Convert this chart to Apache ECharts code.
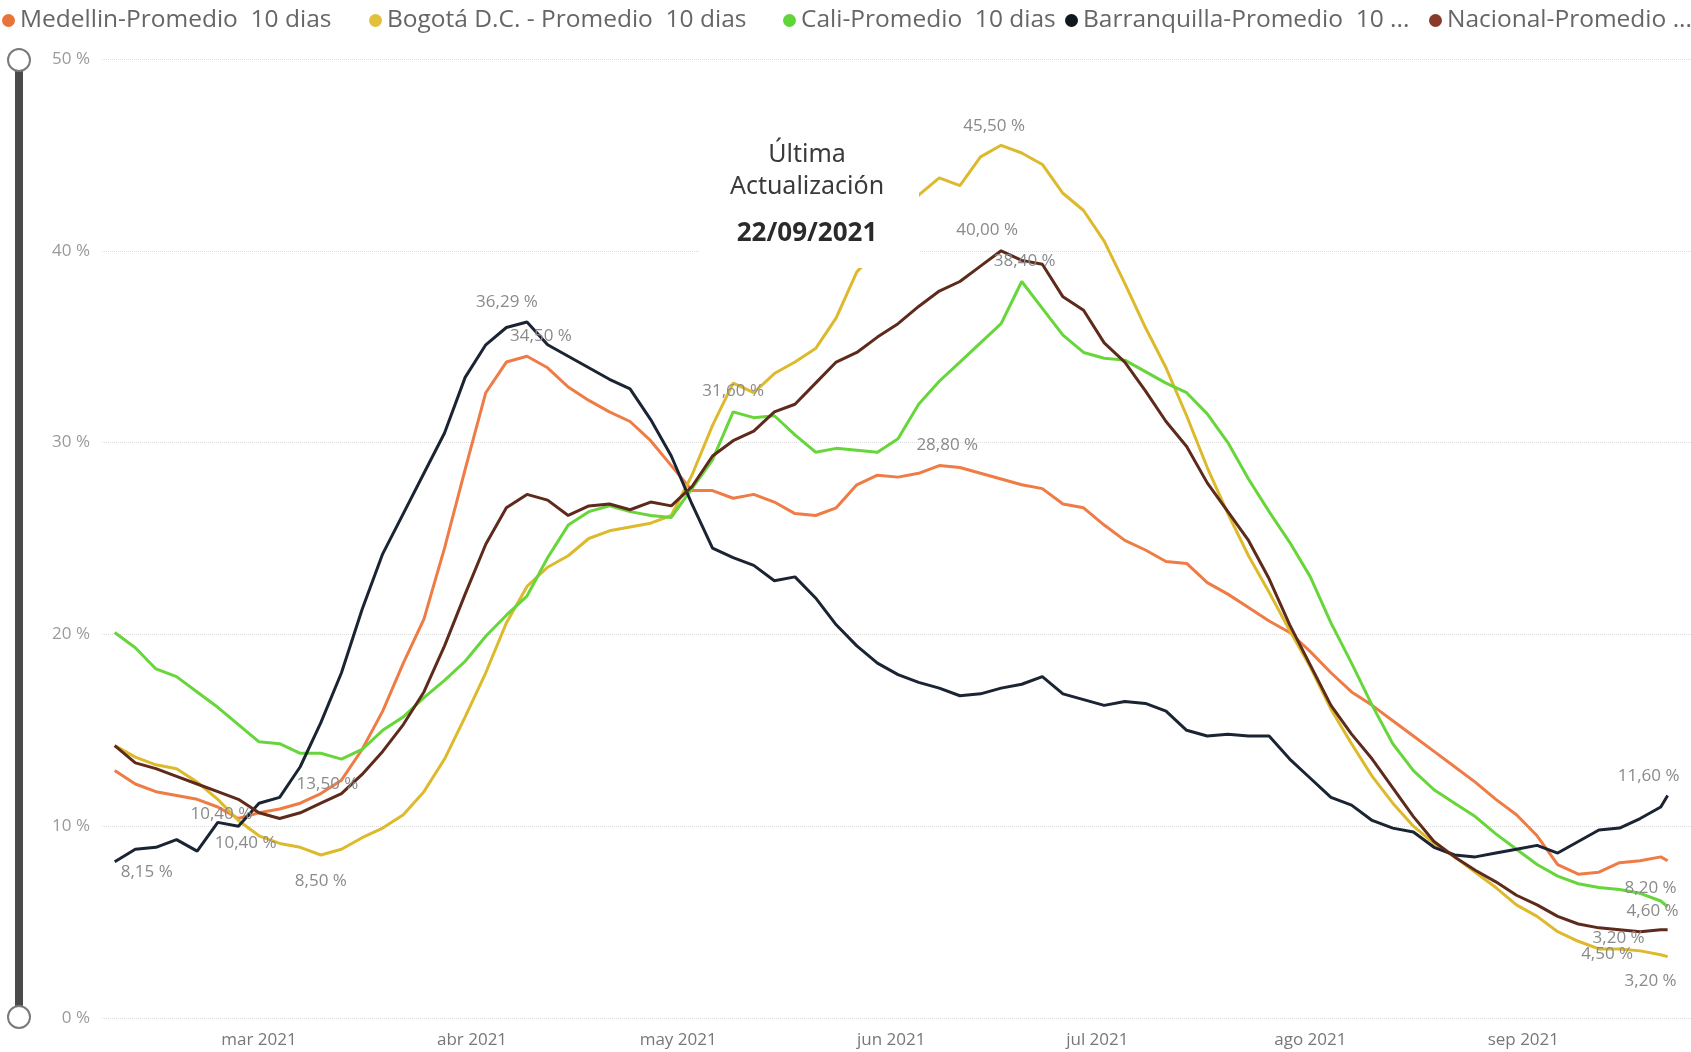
<!DOCTYPE html>
<html>
<head>
<meta charset="utf-8">
<script src="https://cdn.jsdelivr.net/npm/echarts@6/dist/echarts.min.js"></script>
<style>
html,body{margin:0;padding:0;background:#fff;}
#chart{width:1691px;height:1052px;}
</style>
</head>
<body>
<div id="chart"></div>
<script>
// ---------- DATA ----------
const dates = [
 '2021-02-08','2021-02-11','2021-02-14','2021-02-17','2021-02-20','2021-02-23','2021-02-26',
 '2021-03-01','2021-03-04','2021-03-07','2021-03-10','2021-03-13','2021-03-16','2021-03-19','2021-03-22','2021-03-25','2021-03-28','2021-03-31',
 '2021-04-03','2021-04-06','2021-04-09','2021-04-12','2021-04-15','2021-04-18','2021-04-21','2021-04-24','2021-04-27','2021-04-30',
 '2021-05-03','2021-05-06','2021-05-09','2021-05-12','2021-05-15','2021-05-18','2021-05-21','2021-05-24','2021-05-27','2021-05-30',
 '2021-06-02','2021-06-05','2021-06-08','2021-06-11','2021-06-14','2021-06-17','2021-06-20','2021-06-23','2021-06-26','2021-06-29',
 '2021-07-02','2021-07-05','2021-07-08','2021-07-11','2021-07-14','2021-07-17','2021-07-20','2021-07-23','2021-07-26','2021-07-29',
 '2021-08-01','2021-08-04','2021-08-07','2021-08-10','2021-08-13','2021-08-16','2021-08-19','2021-08-22','2021-08-25','2021-08-28','2021-08-31',
 '2021-09-03','2021-09-06','2021-09-09','2021-09-12','2021-09-15','2021-09-18','2021-09-21','2021-09-22'
];

const seriesNames = [
 'Medellin-Promedio  10 dias',
 'Bogotá D.C. - Promedio  10 dias',
 'Cali-Promedio  10 dias',
 'Barranquilla-Promedio  10 ...',
 'Nacional-Promedio ...'
];

const medellin = [
 12.9,12.2,11.8,11.6,11.4,11.0,10.4,
 10.7,10.9,11.2,11.7,12.4,14.0,16.0,18.5,20.8,24.5,28.6,
 32.6,34.2,34.5,33.9,32.9,32.2,31.6,31.1,30.1,28.8,
 27.5,27.5,27.1,27.3,26.9,26.3,26.2,26.6,27.8,28.3,
 28.2,28.4,28.8,28.7,28.4,28.1,27.8,27.6,26.8,26.6,
 25.7,24.9,24.4,23.8,23.7,22.7,22.1,21.4,20.7,20.1,
 19.1,18.0,17.0,16.3,15.5,14.7,13.9,13.1,12.3,11.4,10.6,
 9.5,8.0,7.5,7.6,8.1,8.2,8.4,8.2
];

const bogota = [
 14.2,13.6,13.2,13.0,12.3,11.4,10.3,
 9.5,9.1,8.9,8.5,8.8,9.4,9.9,10.6,11.8,13.5,15.7,
 18.0,20.6,22.5,23.5,24.1,25.0,25.4,25.6,25.8,26.2,
 28.3,30.9,33.1,32.6,33.6,34.2,34.9,36.5,38.9,40.0,
 41.2,42.9,43.8,43.4,44.9,45.5,45.1,44.5,43.0,42.1,
 40.5,38.3,36.0,33.9,31.4,28.7,26.3,24.1,22.2,20.2,
 18.3,16.1,14.3,12.6,11.2,10.0,9.1,8.4,7.6,6.8,5.9,
 5.3,4.5,4.0,3.6,3.6,3.5,3.3,3.2
];

const cali = [
 20.1,19.3,18.2,17.8,17.0,16.2,15.3,
 14.4,14.3,13.8,13.8,13.5,14.0,15.0,15.7,16.7,17.6,18.6,
 19.9,21.0,22.0,24.0,25.7,26.4,26.7,26.4,26.2,26.1,
 27.6,29.1,31.6,31.3,31.4,30.4,29.5,29.7,29.6,29.5,
 30.2,32.0,33.2,34.2,35.2,36.2,38.4,37.0,35.6,34.7,
 34.4,34.3,33.7,33.1,32.6,31.5,30.0,28.1,26.4,24.8,
 23.0,20.6,18.5,16.3,14.3,12.9,11.9,11.2,10.5,9.6,8.8,
 8.0,7.4,7.0,6.8,6.7,6.5,6.1,5.8
];

const barranquilla = [
 8.15,8.8,8.9,9.3,8.7,10.2,10.0,
 11.2,11.5,13.1,15.4,18.0,21.3,24.2,26.3,28.4,30.5,33.4,
 35.1,36.0,36.29,35.1,34.5,33.9,33.3,32.8,31.2,29.3,
 26.8,24.5,24.0,23.6,22.8,23.0,21.9,20.5,19.4,18.5,
 17.9,17.5,17.2,16.8,16.9,17.2,17.4,17.8,16.9,16.6,
 16.3,16.5,16.4,16.0,15.0,14.7,14.8,14.7,14.7,13.5,
 12.5,11.5,11.1,10.3,9.9,9.7,8.9,8.5,8.4,8.6,8.8,
 9.0,8.6,9.2,9.8,9.9,10.4,11.0,11.6
];

const nacional = [
 14.2,13.3,13.0,12.6,12.2,11.8,11.4,
 10.7,10.4,10.7,11.2,11.7,12.7,13.9,15.3,17.0,19.4,22.1,
 24.7,26.6,27.3,27.0,26.2,26.7,26.8,26.5,26.9,26.7,
 27.7,29.3,30.1,30.6,31.6,32.0,33.1,34.2,34.7,35.5,
 36.2,37.1,37.9,38.4,39.2,40.0,39.5,39.3,37.6,36.9,
 35.2,34.2,32.7,31.1,29.8,27.9,26.4,24.9,22.9,20.5,
 18.4,16.3,14.8,13.5,12.0,10.5,9.2,8.4,7.7,7.1,6.4,
 5.9,5.3,4.9,4.7,4.6,4.5,4.6,4.6
];

const yTicks = [0, 10, 20, 30, 40, 50];
const monthLabels = ['ene','feb','mar','abr','may','jun','jul','ago','sep','oct','nov','dic'];

// labelled points: [series index, date]
const labelPoints = [
 [3,'2021-04-09'], [0,'2021-04-09'], [2,'2021-05-09'], [1,'2021-06-17'], [4,'2021-06-17'],
 [2,'2021-06-20'], [0,'2021-06-08'], [2,'2021-03-13'], [0,'2021-02-26'], [4,'2021-03-04'],
 [1,'2021-03-10'], [3,'2021-02-08'], [3,'2021-09-22'], [0,'2021-09-22'], [4,'2021-09-22'],
 [1,'2021-09-22'], [1,'2021-09-22'], [4,'2021-09-18']
];

// ---------- STYLE / LAYOUT ----------
const labelOffsets = [
 [-20,-20],[14,-20],[0,-21],[-7,-19],[-14,-21],
 [3,-20],[8,-20],[-14,25],[-17,-4],[-34,25],
 [0,26],[32,10],[-19,-19],[-17,27],[-15,-19],
 [-17,25],[-49,-18],[-33,22]
];
const colors = ['#EF7B45','#DDBA2C','#66D63A','#1B2433','#5E2A1C'];
const legendDot = ['#E8743B','#E3C03A','#5FD53A','#111820','#8A3A2A'];
const legendLeft = [2, 369, 783, 1065, 1429];

const allValues = [medellin, bogota, cali, barranquilla, nacional];

function fmt(v){ return v.toFixed(2).replace('.', ',') + ' %'; }

const chart = echarts.init(document.getElementById('chart'), null, {renderer:'canvas'});

const DAY = 86400000;
const mar1 = new Date(2021,2,1).getTime();
const xMin = mar1 - 22.85*DAY;
const xMax = mar1 + 208.4*DAY;

const series = allValues.map((vals, si) => {
  const mp = [];
  labelPoints.forEach((lp, li) => {
    if (lp[0] !== si) return;
    const idx = dates.indexOf(lp[1]);
    const v = vals[idx];
    mp.push({
      coord: [lp[1], v], value: v,
      label: {show:true, position:'inside', offset: labelOffsets[li], formatter: fmt(v)}
    });
  });
  return {
    name: seriesNames[si],
    type: 'line',
    data: dates.map((d, i) => [d, vals[i]]),
    symbol: 'none',
    smooth: false,
    color: legendDot[si],
    lineStyle: {width: 3, color: colors[si]},
    emphasis: {disabled: true},
    z: 2 + si,
    markPoint: {
      symbol: 'circle', symbolSize: 0.1,
      itemStyle: {color: 'rgba(0,0,0,0)'},
      label: {color: '#8a8a8a', fontSize: 17, fontFamily: 'Open Sans'},
      data: mp,
      z: 20
    }
  };
});

const legends = seriesNames.map((n, i) => ({
  data: [{name: n, itemStyle: {color: legendDot[i]}}],
  left: legendLeft[i], top: 8,
  icon: 'circle', itemWidth: 13, itemHeight: 13,
  textStyle: {color: '#666', fontSize: 24.5, fontFamily: 'Open Sans'},
  selectedMode: false,
  padding: 0
}));

const option = {
  backgroundColor: '#fff',
  animation: false,
  legend: legends,
  grid: {left: 102, right: 0, top: 59, bottom: 34, containLabel: false},
  xAxis: {
    type: 'time',
    min: xMin, max: xMax,
    splitNumber: 8,
    minInterval: 28*DAY, maxInterval: 31*DAY,
    axisLine: {show:false}, axisTick: {show:false},
    splitLine: {show:false},
    axisLabel: {
      color: '#777', fontSize: 17, fontFamily: 'Open Sans', margin: 14,
      showMinLabel: false, showMaxLabel: false,
      formatter: function(v){ const d = new Date(v); return monthLabels[d.getMonth()] + ' ' + d.getFullYear(); }
    }
  },
  yAxis: {
    type: 'value', min: yTicks[0], max: yTicks[yTicks.length-1], interval: 10,
    axisLine: {show:false}, axisTick: {show:false},
    axisLabel: {color: '#9a9a9a', fontSize: 17, fontFamily: 'Open Sans', margin: 12, formatter: '{value} %'},
    splitLine: {show:true, lineStyle: {type: 'dotted', color: '#dcdcdc', width: 1}}
  },
  dataZoom: [{
    type: 'slider', yAxisIndex: 0, orient: 'vertical', filterMode: 'none',
    left: 14, width: 8, top: 59, bottom: 34, start: 0, end: 100,
    showDetail: false, showDataShadow: false, brushSelect: false, zoomLock: true,
    backgroundColor: 'rgba(0,0,0,0)', borderColor: 'rgba(0,0,0,0)',
    fillerColor: '#4a4a4a',
    handleIcon: 'circle', handleSize: 22,
    handleStyle: {color: '#fff', borderColor: '#7a7a7a', borderWidth: 2},
    moveHandleSize: 0,
    dataBackground: {lineStyle: {opacity: 0}, areaStyle: {opacity: 0}},
    selectedDataBackground: {lineStyle: {opacity: 0}, areaStyle: {opacity: 0}},
    emphasis: {handleStyle: {color: '#fff', borderColor: '#7a7a7a', borderWidth: 2}}
  }],
  graphic: [{
    type: 'group', z: 100,
    children: [
      {type: 'rect', shape: {x: 700, y: 119, width: 219, height: 149}, style: {fill: '#fff'}, z: 100},
      {type: 'text', x: 807, y: 155, z: 101, style: {text: 'Última', fill: '#3a3a3a', fontSize: 25, fontFamily: 'Noto Sans', textAlign: 'center', textVerticalAlign: 'middle'}},
      {type: 'text', x: 807, y: 187, z: 101, style: {text: 'Actualización', fill: '#3a3a3a', fontSize: 25, fontFamily: 'Noto Sans', textAlign: 'center', textVerticalAlign: 'middle'}},
      {type: 'text', x: 807, y: 234, z: 101, style: {text: '22/09/2021', fill: '#2a2a2a', fontSize: 26, fontWeight: 'bold', fontFamily: 'Noto Sans', textAlign: 'center', textVerticalAlign: 'middle'}}
    ]
  }],
  series: series
};

chart.setOption(option);
</script>
</body>
</html>
